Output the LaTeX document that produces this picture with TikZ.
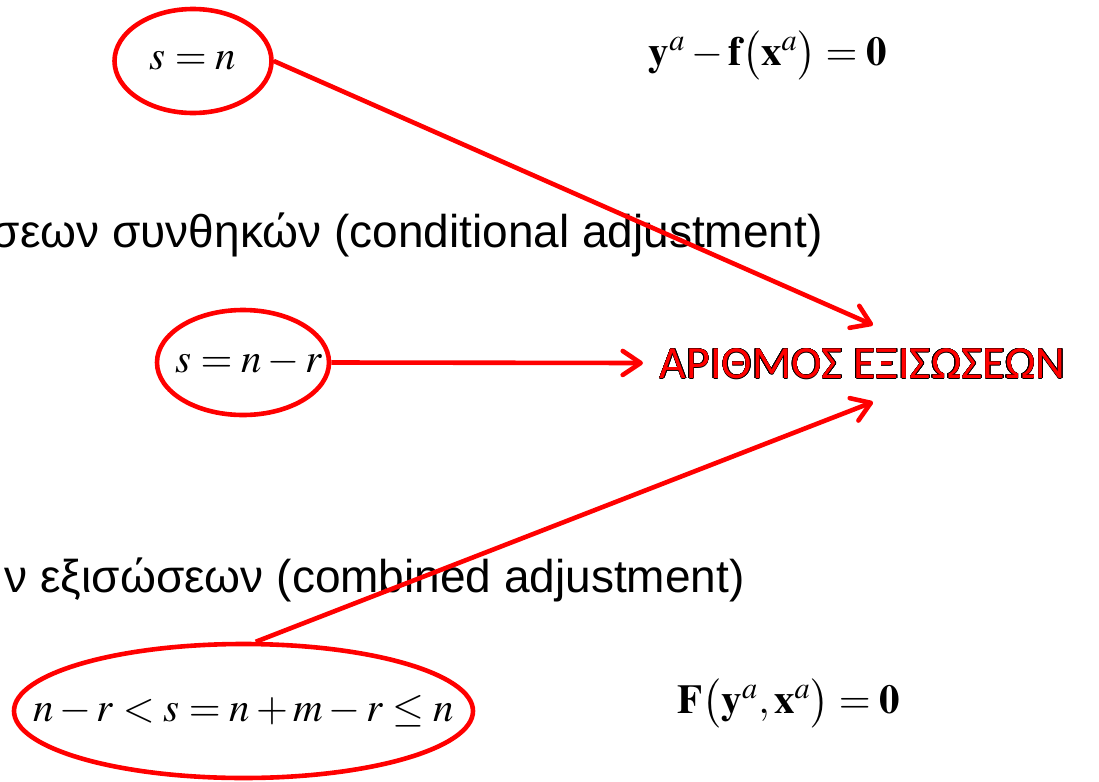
\documentclass[tikz,border=0pt]{standalone}
\usepackage{mathptmx}
\usepackage[no-math]{fontspec}
\setsansfont{Liberation Sans}
\newfontfamily\calibrifont{Carlito}
\usepackage{contour}
\contourlength{0.25pt}
\usetikzlibrary{positioning,arrows.meta,shapes.geometric}
\definecolor{slidered}{RGB}{255,0,0}

\begin{document}
\begin{tikzpicture}[
    x=0.5pt,
    y=-0.5pt,
    font=\fontsize{20.5pt}{25pt}\selectfont,
    ring/.style={
        draw=slidered,
        line width=2.3pt,
        ellipse,
        inner sep=0pt
    },
    eqn/.style={inner sep=0pt},
    caption/.style={font=\sffamily\fontsize{23pt}{27pt}\selectfont, inner sep=0pt},
    count/.style={font=\calibrifont\fontsize{23pt}{28pt}\selectfont, text=slidered, inner sep=0pt},
    pointer/.style={draw=slidered, line width=2.3pt, -{Straight Barb[length=9pt,width=12pt,round]}}
]
\useasboundingbox (0,0) rectangle (1099,782);

% ============================================================
% ΜΕΤΡΑ ΚΑΙ ΕΞΙΣΩΣΕΙΣ
% ============================================================
\node[ring, minimum width=78.5pt, minimum height=52pt] (sn) at (193,61) {};
\node[eqn] (sntext) at (sn) {$s=n$};
\node[eqn] (obseq) at (768,55) {$\mathbf{y}^{a}-\mathbf{f}\bigl(\mathbf{x}^{a}\bigr)=\mathbf{0}$};

\node[caption, anchor=base east] (cond) at (823,247) {σεων συνθηκών (conditional adjustment)};
\node[ring, minimum width=86pt, minimum height=52.5pt] (snr) at (243,362.5) {};
\node[eqn] (snrtext) at ([xshift=3pt]snr) {$s=n-r$};

\node[caption, anchor=base east] (comb) at (745,592) {ν εξισώσεων (combined adjustment)};
\node[ring, minimum width=229.5pt, minimum height=67pt] (snmr) at (243.5,711) {};
\node[eqn] (snmrtext) at (snmr) {$n-r<s=n+m-r\leq n$};
\node[eqn] (impeq) at (789,703) {$\mathbf{F}\bigl(\mathbf{y}^{a},\mathbf{x}^{a}\bigr)=\mathbf{0}$};

% ============================================================
% ΑΡΙΘΜΟΣ ΕΞΙΣΩΣΕΩΝ
% ============================================================
\node[count] (num) at (862.5,364) {\contour{black}{ΑΡΙΘΜΟΣ ΕΞΙΣΩΣΕΩΝ}};
\coordinate (tipup) at (873,325);
\coordinate (tipmid) at (643,363);
\coordinate (tipdown) at (873,402);

\draw[pointer] (sn.east) -- (tipup);
\draw[pointer] (snr.east) -- (tipmid);
\draw[pointer] (snmr.80) -- (tipdown);

\end{tikzpicture}
\end{document}
